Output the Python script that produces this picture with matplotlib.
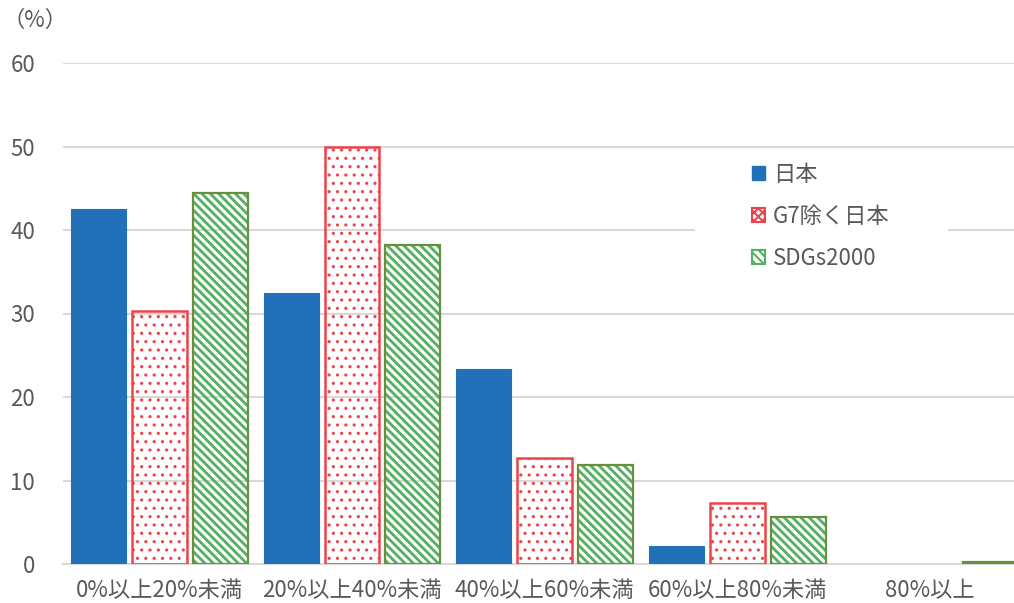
import matplotlib
matplotlib.use("Agg")
import matplotlib.pyplot as plt
import numpy as np
from matplotlib.patches import Patch, Rectangle

plt.rcParams['font.family'] = ['Noto Sans CJK JP', 'DejaVu Sans']

categories = ["0%以上20%未満", "20%以上40%未満", "40%以上60%未満", "60%以上80%未満", "80%以上"]
series_names = ["日本", "G7除く日本", "SDGs2000"]
japan = [42.5, 32.5, 23.3, 2.1, 0.0]
g7_ex_japan = [30.3, 50.0, 12.7, 7.3, 0.0]
sdgs2000 = [44.4, 38.2, 11.9, 5.6, 0.2]
yticks = [0, 10, 20, 30, 40, 50, 60]

fig = plt.figure(figsize=(10.14, 6.03), dpi=100)
ax = fig.add_axes([63/1014, 1-564/603, 1-63/1014, (564-63)/603])

x = np.arange(len(categories))
w = 0.285
off = 0.316
gray = '#595959'
blue = '#2170B8'
red = '#F0424A'
green = '#52B060'
olive = '#6A8F3A'

def lw_for(vals, lw):
    return [lw if v > 0 else 0 for v in vals]

ax.bar(x - off, japan, w, color=blue, edgecolor=blue, linewidth=lw_for(japan, 0.8), zorder=3)
plt.rcParams['hatch.linewidth'] = 1.1
ax.bar(x, g7_ex_japan, w, color='none', edgecolor=red, hatch='..', linewidth=lw_for(g7_ex_japan, 1.8), zorder=3)
plt.rcParams['hatch.linewidth'] = 2.0
ax.bar(x + off, sdgs2000, w, color='none', edgecolor=green, hatch='\\\\\\\\', linewidth=0, zorder=3)
ax.bar(x + off, sdgs2000, w, color='none', edgecolor=olive, linewidth=1.6, zorder=4)

ax.set_xlim(-0.5, (1014-159)/192.75)
ax.set_ylim(0, 60)
ax.set_yticks(yticks)
ax.set_xticks(x)
ax.set_xticklabels(categories, fontsize=16, color=gray)
ax.tick_params(axis='y', labelsize=16, colors=gray, length=0, pad=20)
ax.tick_params(axis='x', length=0, pad=11)
ax.grid(axis='y', color='#D9D9D9', linewidth=1.5, zorder=0)
for s in ['top', 'right', 'left']:
    ax.spines[s].set_visible(False)
ax.spines['bottom'].set_color('#D9D9D9')
ax.spines['bottom'].set_linewidth(1.5)

# white legend background area
ax.add_patch(Rectangle((695/1014, 1-285/603), (948-695)/1014, (285-155)/603,
                       transform=fig.transFigure, facecolor='white', edgecolor='none', zorder=2))

plt.rcParams['hatch.linewidth'] = 1.5
handles = [
    Patch(facecolor=blue, edgecolor=blue),
    Patch(facecolor='white', edgecolor=red, hatch='xxxx', linewidth=1.5),
    Patch(facecolor='white', edgecolor=green, hatch='\\\\\\\\', linewidth=1.5),
]
leg = ax.legend(handles, series_names, loc='upper left', bbox_to_anchor=(752/1014, 1-163/603),
                bbox_transform=fig.transFigure, frameon=False, fontsize=16, handlelength=0.6,
                handleheight=0.6, handletextpad=0.35, labelspacing=0.85, borderpad=0,
                borderaxespad=0)
leg.set_zorder(5)
for t in leg.get_texts():
    t.set_color(gray)

fig.text(2/1014, 1-20/603, "（%）", fontsize=16, color=gray, va='center', ha='left')

fig.savefig("out.png", dpi=100)
